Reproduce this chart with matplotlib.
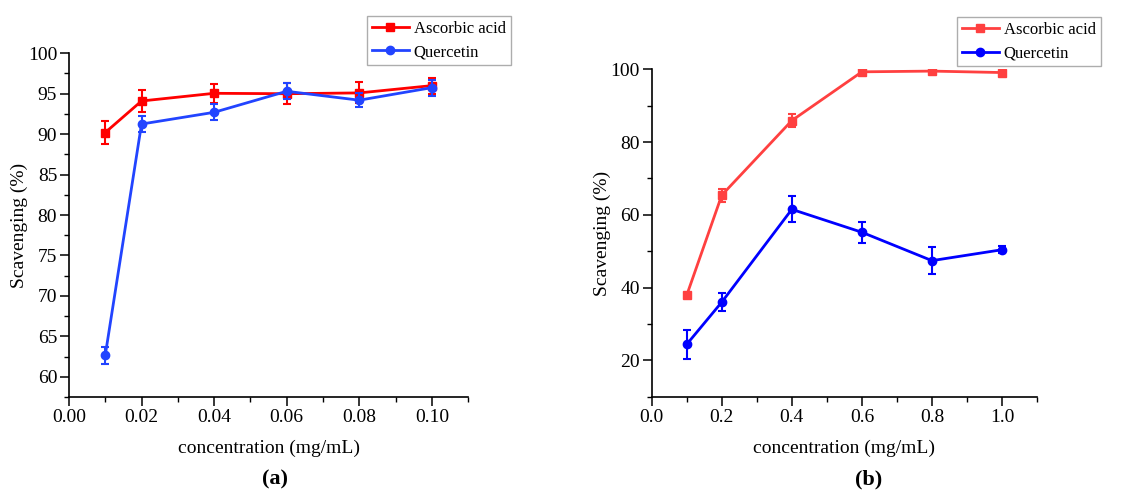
import matplotlib
matplotlib.use('Agg')
from matplotlib import pyplot as plt
from matplotlib.ticker import MultipleLocator, FormatStrFormatter

plt.rcParams['font.family'] = ['Liberation Serif', 'DejaVu Serif']

# panel (a)
conc_a   = [0.01, 0.02, 0.04, 0.06, 0.08, 0.10]
asc_a    = [90.2, 94.1, 95.05, 95.0, 95.1, 96.0]
asc_a_e  = [1.4, 1.3, 1.2, 1.3, 1.3, 1.0]
quer_a   = [62.65, 91.25, 92.7, 95.3, 94.2, 95.75]
quer_a_e = [1.05, 1.0, 1.0, 1.0, 0.9, 1.0]

# panel (b)
conc_b   = [0.1, 0.2, 0.4, 0.6, 0.8, 1.0]
asc_b    = [37.9, 65.4, 85.9, 99.3, 99.5, 99.1]
asc_b_e  = [0.5, 1.8, 1.8, 0.8, 0.4, 0.5]
quer_b   = [24.4, 36.0, 61.5, 55.2, 47.4, 50.4]
quer_b_e = [3.9, 2.4, 3.6, 2.9, 3.8, 0.9]

ticksize = 14
labelsize = 14

fig = plt.figure(figsize=(11.34, 4.97), dpi=100)
axA = fig.add_axes([0.0608, 0.2012, 0.352, 0.6916])
axB = fig.add_axes([0.5747, 0.2018, 0.3398, 0.6588])

def style(ax):
  for s in ['top', 'right']:
    ax.spines[s].set_visible(False)
  for s in ['left', 'bottom']:
    ax.spines[s].set_linewidth(1.2)
  ax.tick_params(which='major', direction='out', length=6.5, width=1.1, labelsize=ticksize, pad=2)
  ax.tick_params(which='minor', direction='out', length=3.5, width=1.0)
  ax.set_xlabel('concentration (mg/mL)', fontsize=labelsize, labelpad=10)
  ax.set_ylabel('Scavenging (%)', fontsize=labelsize, labelpad=0)

def series(ax, x, y, e, color, marker, label):
  ax.errorbar(x, y, yerr=e, fmt='none', ecolor=color, elinewidth=1.5,
              capsize=3, capthick=1.5)
  line, = ax.plot(x, y, color=color, lw=2, marker=marker, ms=6, label=label)
  return line

def legend(ax, handles, x, y):
  leg = ax.legend(handles=handles, loc='upper left', bbox_to_anchor=(x, y), fontsize=12,
                  frameon=True, fancybox=False, edgecolor='#999999', borderpad=0.3,
                  handlelength=2.2, handletextpad=0.3, labelspacing=0.45, borderaxespad=0)
  leg.get_frame().set_linewidth(1.0)
  return leg

## panel a
h1 = series(axA, conc_a, asc_a, asc_a_e, '#ff0000', 's', 'Ascorbic acid')
h2 = series(axA, conc_a, quer_a, quer_a_e, '#2244ff', 'o', 'Quercetin')
axA.set_xlim(0, 0.11)
axA.set_ylim(57.5, 100)
axA.xaxis.set_major_locator(MultipleLocator(0.02))
axA.xaxis.set_minor_locator(MultipleLocator(0.01))
axA.yaxis.set_major_locator(MultipleLocator(5))
axA.yaxis.set_minor_locator(MultipleLocator(2.5))
axA.xaxis.set_major_formatter(FormatStrFormatter('%.2f'))
style(axA)
legend(axA, [h1, h2], 0.747, 1.109)
fig.text(0.2425, 0.025, '(a)', fontsize=16, fontweight='bold', ha='center')

## panel b
h3 = series(axB, conc_b, asc_b, asc_b_e, '#ff4040', 's', 'Ascorbic acid')
h4 = series(axB, conc_b, quer_b, quer_b_e, '#0000ff', 'o', 'Quercetin')
axB.set_xlim(0, 1.1)
axB.set_ylim(10, 100)
axB.xaxis.set_major_locator(MultipleLocator(0.2))
axB.xaxis.set_minor_locator(MultipleLocator(0.1))
axB.yaxis.set_major_locator(MultipleLocator(20))
axB.yaxis.set_minor_locator(MultipleLocator(10))
axB.xaxis.set_major_formatter(FormatStrFormatter('%.1f'))
style(axB)
legend(axB, [h3, h4], 0.792, 1.16)
fig.text(0.766, 0.025, '(b)', fontsize=16, fontweight='bold', ha='center')

fig.savefig('out.png', dpi=100)
plt.close()
